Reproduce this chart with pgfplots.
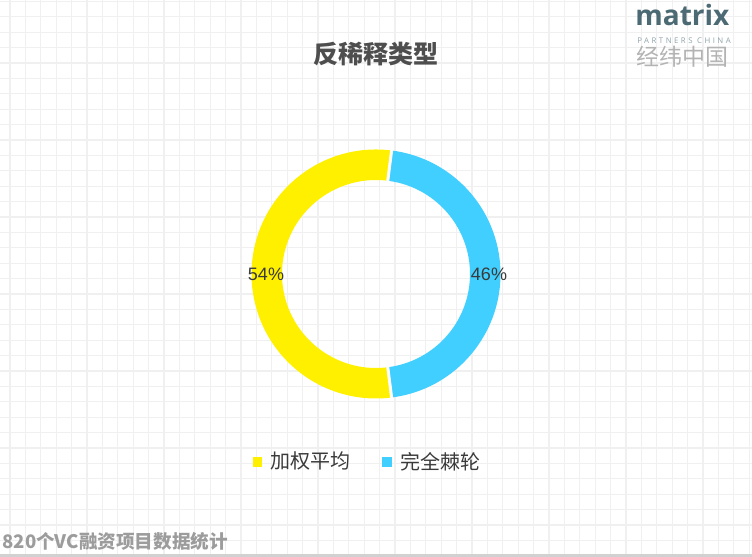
\documentclass[border=0pt]{standalone}
\usepackage{pgfplots}
\pgfplotsset{compat=1.18}
\usepackage{pgfplotstable}
\usepackage{fontspec}
\setmainfont{Liberation Sans}
\newfontfamily\cjk{Noto Sans CJK SC}
\newfontfamily\logofont{Open Sans}
\definecolor{ringyellow}{HTML}{FFF000}
\definecolor{ringcyan}{HTML}{40CFFF}
\definecolor{gridc}{HTML}{F0F0F0}
\definecolor{textc}{HTML}{3A3A3A}
\definecolor{logoc}{HTML}{4C6A74}
\definecolor{logosub}{HTML}{8FA3AA}
\definecolor{logocn}{HTML}{B3B3B3}
\definecolor{footc}{HTML}{9C9C9C}

% share of each anti-dilution type
\pgfplotstableread{
part value
0 54
1 46
}\piedata

\begin{document}
\begin{tikzpicture}
\pgfplotstablegetelem{0}{value}\of\piedata \let\va\pgfplotsretval
\pgfplotstablegetelem{1}{value}\of\piedata \let\vb\pgfplotsretval
\pgfmathsetmacro\sweep{\va/(\va+\vb)*360}
\pgfmathsetmacro\ya{180-\sweep/2}
\pgfmathsetmacro\yb{180+\sweep/2}
\pgfmathsetmacro\cb{540-\sweep/2}
\def\Ro{62.25pt}
\def\Ri{47pt}
\begin{axis}[
    x=0.5pt, y=0.5pt,
    scale only axis,
    xmin=0, xmax=752, ymin=0, ymax=557,
    axis line style={draw=none},
    xtick={10,25.4,...,752},
    ytick={1.2,16.6,...,557},
    xticklabels={}, yticklabels={},
    major tick length=0pt,
    grid=major,
    grid style={gridc, line width=0.6pt},
    clip=false,
    legend image code/.code={\fill[#1] (0pt,-2.1pt) rectangle (4.2pt,2.1pt); \path (6.6pt,0pt);},
    legend style={at={(axis cs:368.5,95)}, anchor=center, draw=none, fill=none,
        legend columns=2, font=\cjk\fontsize{10}{12}\selectfont, text=textc,
        /tikz/every even column/.append style={column sep=14pt}},
]
\addlegendimage{ringyellow}
\addlegendentry{加权平均}
\addlegendimage{ringcyan}
\addlegendentry{完全棘轮}

\fill[ringyellow] ([shift={(\ya:\Ro)}]axis cs:376,283) arc[start angle=\ya, end angle=\yb, radius=\Ro]
    -- ([shift={(\yb:\Ri)}]axis cs:376,283) arc[start angle=\yb, end angle=\ya, radius=\Ri] -- cycle;
\fill[ringcyan] ([shift={(\yb:\Ro)}]axis cs:376,283) arc[start angle=\yb, end angle=\cb, radius=\Ro]
    -- ([shift={(\cb:\Ri)}]axis cs:376,283) arc[start angle=\cb, end angle=\yb, radius=\Ri] -- cycle;
\draw[white, line width=1.5pt] ([shift={(\ya:45pt)}]axis cs:376,283) -- ([shift={(\ya:64pt)}]axis cs:376,283);
\draw[white, line width=1.5pt] ([shift={(\yb:45pt)}]axis cs:376,283) -- ([shift={(\yb:64pt)}]axis cs:376,283);

\node[font=\fontsize{9}{10}\selectfont, text=textc] at ([shift={(180:55pt)}]axis cs:376,283) {\va\%};
\node[font=\fontsize{9}{10}\selectfont, text=textc] at ([shift={(0:56.5pt)}]axis cs:376,283) {\vb\%};

\node[font=\cjk\bfseries\fontsize{12.5}{14}\selectfont, text=textc!90] at (axis cs:376,503) {反稀释类型};

\node[anchor=base west, inner sep=0pt, font=\logofont\bfseries\fontsize{14}{14}\selectfont, text=logoc] at (axis cs:635,531) {matrix};
\node[anchor=base west, inner sep=0pt, font=\logofont\fontsize{3.9}{4}\selectfont\addfontfeature{LetterSpace=32}, text=logosub] at (axis cs:637,513) {PARTNERS CHINA};
\node[anchor=base west, inner sep=0pt, font=\cjk\fontsize{11.5}{12}\selectfont, text=logocn] at (axis cs:636,491) {经纬中国};

\node[anchor=west, inner sep=0pt, font=\cjk\bfseries\fontsize{9.3}{10}\selectfont, text=footc] at (axis cs:2,16) {820个VC融资项目数据统计};

\fill[black!18] (axis cs:0,0) rectangle (axis cs:752,3);
\coordinate (SW) at (rel axis cs:0,0);
\coordinate (NE) at (rel axis cs:1,1);
\end{axis}
\pgfresetboundingbox
\path[use as bounding box] (SW) rectangle (NE);
\end{tikzpicture}
\end{document}
